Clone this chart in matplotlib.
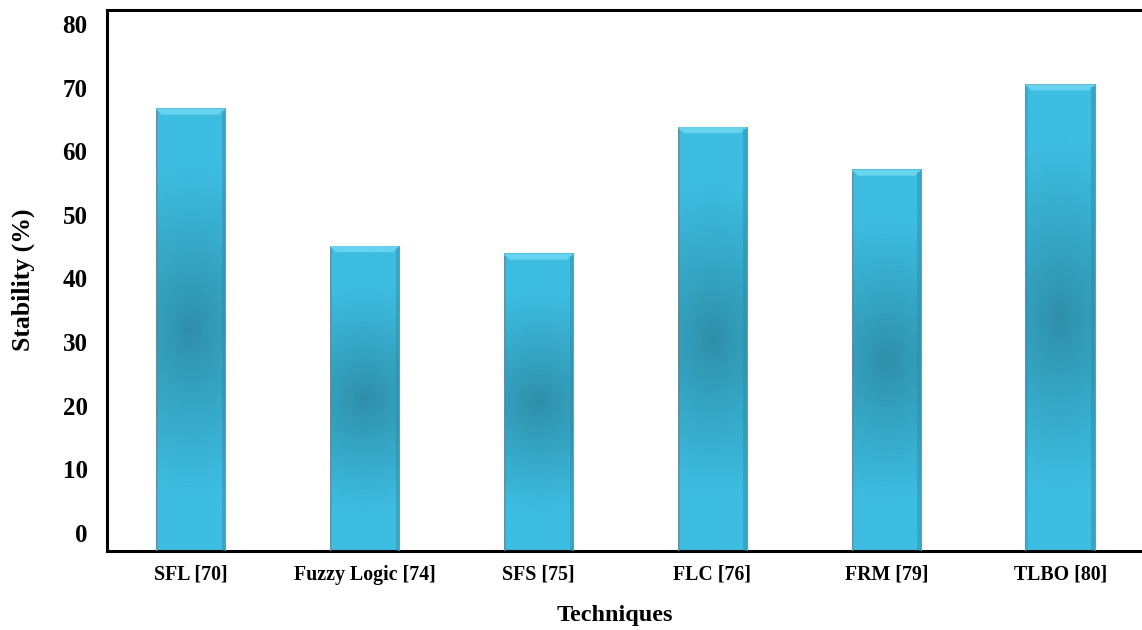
import numpy as np
import matplotlib.pyplot as plt
from matplotlib.colors import to_rgb
from matplotlib.patches import Polygon, Rectangle

techniques = ["SFL [70]", "Fuzzy Logic [74]", "SFS [75]", "FLC [76]", "FRM [79]", "TLBO [80]"]
stability = [66.7, 45.1, 43.9, 63.8, 57.1, 70.5]
yticks = [0, 10, 20, 30, 40, 50, 60, 70, 80]

light = np.array(to_rgb("#3dbde1"))
dark = np.array(to_rgb("#2e8ea8"))
FONT = "Liberation Serif"


def bar_gradient(n=200, m=40):
    """Image RGB: clair en haut/bas, plus sombre au centre de la barre."""
    t = np.linspace(0, 1, n)[:, None]
    s = np.linspace(0, 1, m)[None, :]
    d = np.sqrt(((t - 0.5) / 0.5) ** 2 + (((s - 0.5) / 0.5) * 0.25) ** 2)
    k = np.clip(d / 0.75, 0, 1) ** 0.9
    return dark[None, None, :] + (light - dark)[None, None, :] * k[:, :, None]


fig = plt.figure(figsize=(11.42, 6.30), dpi=100)
ax = fig.add_axes([107 / 1142, 79 / 630, 1 - 107 / 1142, 541 / 630])

ymin, ymax = -2.83, 82.2
xmin, xmax = -0.48, 5.47
width = 0.4
grad = bar_gradient()
x = np.arange(len(techniques))

for xi, v in zip(x, stability):
    x0, x1 = xi - width / 2, xi + width / 2
    ax.imshow(grad, extent=[x0, x1, ymin, v], origin="lower",
              aspect="auto", interpolation="bilinear", zorder=2)
    # contour gris léger
    ax.add_patch(Rectangle((x0, ymin), width, v - ymin, fill=False,
                           edgecolor="#7d959c", lw=0.8, zorder=3))
    # biseau du haut
    h = 0.95
    dx = 0.035
    ax.add_patch(Polygon([(x0, v), (x1, v), (x1 - dx, v - h), (x0 + dx, v - h)],
                         closed=True, facecolor="#66d4ef", edgecolor="none", zorder=3))
    # bords latéraux plus sombres
    ax.add_patch(Rectangle((x1 - dx * 0.6, ymin), dx * 0.6, v - ymin - h * 0.4,
                           facecolor="#2a86a0", edgecolor="none", alpha=0.4, zorder=3))
    ax.add_patch(Rectangle((x0, ymin), dx * 0.4, v - ymin - h * 0.4,
                           facecolor="#2a86a0", edgecolor="none", alpha=0.25, zorder=3))

ax.set_xlim(xmin, xmax)
ax.set_ylim(ymin, ymax)
ax.set_yticks(yticks)
ax.set_yticklabels([str(t) for t in yticks], fontsize=18, fontweight="bold", family=FONT)
ax.set_xticks(x)
ax.set_xticklabels(techniques, fontsize=14.3, fontweight="bold", family=FONT)
ax.tick_params(axis="y", length=0, pad=14)
ax.tick_params(axis="x", length=0, pad=10)

for side in ["left", "bottom", "top"]:
    ax.spines[side].set_linewidth(2.2)
    ax.spines[side].set_color("black")
ax.spines["right"].set_visible(False)

fig.text(23 / 1142, 1 - 280 / 630, "Stability (%)", rotation=90, ha="center", va="center",
         fontsize=18.5, fontweight="bold", family=FONT)
fig.text(615 / 1142, 1 - 615 / 630, "Techniques", ha="center", va="center",
         fontsize=17.5, fontweight="bold", family=FONT)

fig.savefig("out.png", dpi=100)
